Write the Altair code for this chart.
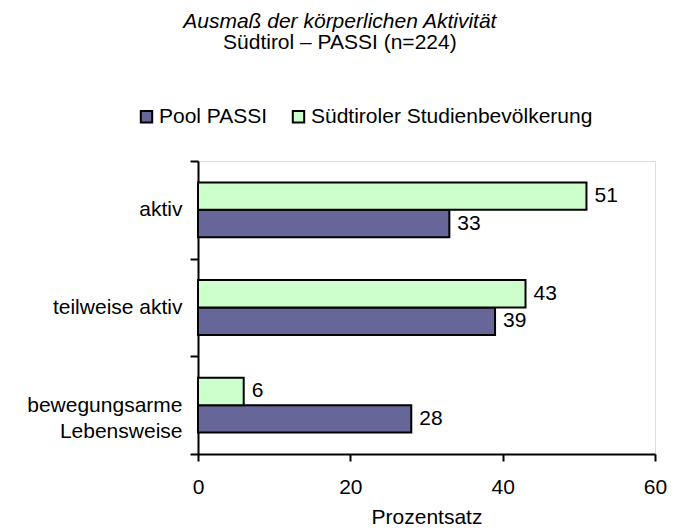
import altair as alt
import pandas as pd

categories = ["aktiv", "teilweise aktiv", "bewegungsarme Lebensweise"]
series = ["Pool PASSI", "Südtiroler Studienbevölkerung"]
pool_passi = [33, 39, 28]
suedtirol = [51, 43, 6]
x_ticks = [0, 20, 40, 60]

rows = []
for c, a, b in zip(categories, pool_passi, suedtirol):
    rows.append({"cat": c, "serie": series[0], "wert": a})
    rows.append({"cat": c, "serie": series[1], "wert": b})
df = pd.DataFrame(rows)

FONT = "Liberation Sans"
FS = 21

y_enc = alt.Y(
    "cat:N",
    sort=categories,
    scale=alt.Scale(paddingInner=0, paddingOuter=0),
    axis=alt.Axis(
        title=None,
        tickBand="extent",
        labelExpr="datum.value == 'bewegungsarme Lebensweise' ? ['bewegungsarme', 'Lebensweise'] : datum.label",
        labelFont=FONT,
        labelFontSize=FS,
        labelColor="black",
        labelPadding=8,
        labelLimit=300,
        tickSize=8,
        tickColor="black",
        tickWidth=2,
        domainColor="black",
        domainWidth=2,
        minExtent=185,
        labelLineHeight=26,
    ),
)
yoff = alt.YOffset(
    "serie:N",
    sort=[series[1], series[0]],
    scale=alt.Scale(paddingInner=0, paddingOuter=0.78),
)
x_enc = alt.X(
    "wert:Q",
    scale=alt.Scale(domain=[0, 60], nice=False),
    axis=alt.Axis(
        values=x_ticks,
        title="Prozentsatz",
        titleFont=FONT,
        titleFontSize=FS,
        titleFontWeight="normal",
        titleColor="black",
        titlePadding=9,
        labelFont=FONT,
        labelFontSize=FS,
        labelColor="black",
        labelPadding=15,
        labelFlush=False,
        tickSize=7,
        tickColor="black",
        tickWidth=2,
        domainColor="black",
        domainWidth=2,
        grid=False,
    ),
)

bars = alt.Chart(df).mark_bar(stroke="black", strokeWidth=2).encode(
    y=y_enc,
    yOffset=yoff,
    x=x_enc,
    color=alt.Color(
        "serie:N",
        scale=alt.Scale(domain=series, range=["#666699", "#CCFFCC"]),
        legend=alt.Legend(
            title=None,
            orient="none",
            direction="horizontal",
            legendX=-62,
            legendY=-55,
            symbolType="square",
            symbolSize=130,
            symbolStrokeColor="black",
            symbolStrokeWidth=2,
            labelFont=FONT,
            labelFontSize=FS,
            labelColor="black",
            labelLimit=400,
            columnPadding=20,
            labelOffset=2,
        ),
    ),
)

labels = alt.Chart(df).mark_text(
    align="left", baseline="middle", dx=8, font=FONT, fontSize=FS, color="black"
).encode(
    y=alt.Y("cat:N", sort=categories),
    yOffset=alt.YOffset("serie:N", sort=[series[1], series[0]]),
    x=alt.X("wert:Q"),
    text=alt.Text("wert:Q"),
)

chart = (
    alt.layer(bars, labels)
    .properties(
        width=457,
        height=293,
        title=alt.TitleParams(
            text="Ausmaß der körperlichen Aktivität",
            subtitle="Südtirol – PASSI (n=224)",
            font=FONT,
            fontSize=FS,
            fontStyle="italic",
            fontWeight="normal",
            color="black",
            subtitleFont=FONT,
            subtitleFontSize=FS,
            subtitleColor="black",
            subtitlePadding=0,
            anchor="middle",
            frame="bounds",
            offset=53,
        ),
    )
    .configure_view(stroke=None)
    .configure(padding={"left": 5, "top": 3, "right": 0, "bottom": 0})
)

chart.save("out.html", embed_options={"renderer": "svg", "actions": False})
